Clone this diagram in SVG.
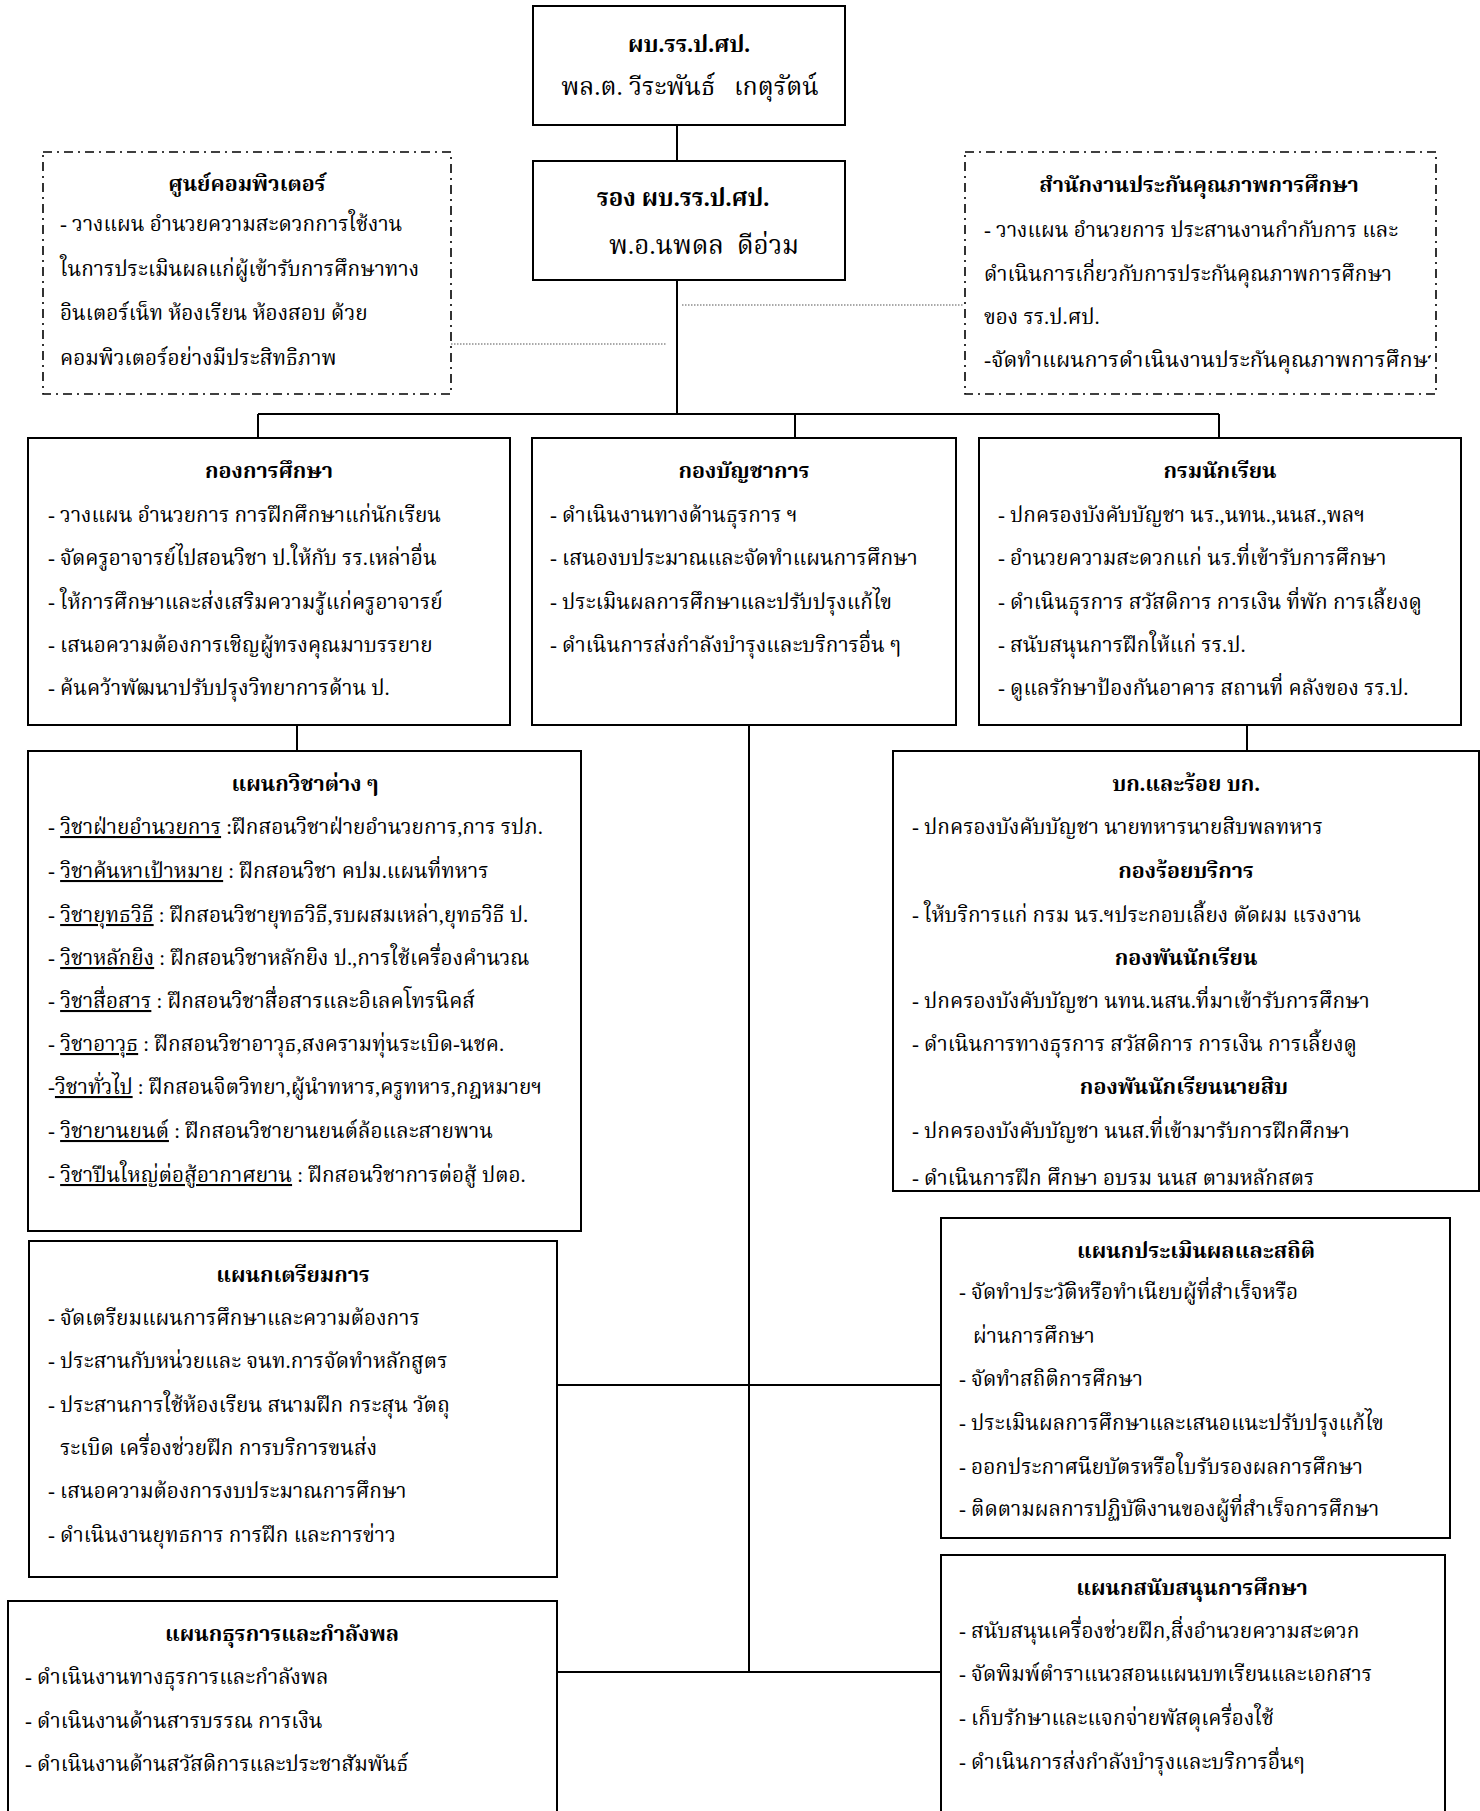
<svg xmlns="http://www.w3.org/2000/svg" width="1480" height="1811" viewBox="0 0 1480 1811">
<style>
.box{fill:#fff;stroke:#000;stroke-width:2}
.dd{fill:#fff;stroke:#000;stroke-width:1.6;stroke-dasharray:9 5 2 5}
.ln{stroke:#000;stroke-width:2;fill:none}
.dot{stroke:#555;stroke-width:1.2;stroke-dasharray:1.5 1.5;fill:none}
text{font-family:"Liberation Serif","Noto Serif Thai","Noto Sans Thai",serif;font-size:20.8px;fill:#000;white-space:pre}
.b{font-weight:bold;font-size:21.5px}
.c{text-anchor:middle}
.u{text-decoration:underline}
.h1{font-size:23px}
.h2{font-size:24px}
.nm{font-size:25px}
.nm2{font-size:26px}
</style>
<defs>
<clipPath id="clipbk"><rect x="893" y="751" width="586" height="434"/></clipPath>
<clipPath id="clipqa"><rect x="965" y="152" width="466" height="242"/></clipPath>
</defs>
<g id="connectors">
<line class="ln" x1="677" y1="125" x2="677" y2="161"/>
<line class="ln" x1="677" y1="280" x2="677" y2="414"/>
<line class="ln" x1="258" y1="414" x2="1219" y2="414"/>
<line class="ln" x1="258" y1="414" x2="258" y2="438"/>
<line class="ln" x1="795" y1="414" x2="795" y2="438"/>
<line class="ln" x1="1219" y1="414" x2="1219" y2="438"/>
<line class="dot" x1="451" y1="344" x2="667" y2="344"/>
<line class="dot" x1="682" y1="305" x2="964" y2="305"/>
<line class="ln" x1="297" y1="725" x2="297" y2="751"/>
<line class="ln" x1="1247" y1="725" x2="1247" y2="751"/>
<line class="ln" x1="749" y1="725" x2="749" y2="1672"/>
<line class="ln" x1="557" y1="1385" x2="941" y2="1385"/>
<line class="ln" x1="557" y1="1672" x2="941" y2="1672"/>
</g>
<g id="n-director">
<rect class="box" x="533" y="6" width="312" height="119"/>
<text class="b c h1" x="689" y="52">ผบ.รร.ป.ศป.</text>
<text class="c nm" x="690" y="95">พล.ต. วีระพันธ์   เกตุรัตน์</text>
</g>
<g id="n-deputy">
<rect class="box" x="533" y="161" width="312" height="119"/>
<text class="b c h2" x="683" y="206">รอง ผบ.รร.ป.ศป.</text>
<text class="c nm2" x="704" y="254">พ.อ.นพดล  ดีอ่วม</text>
</g>
<g id="n-computer">
<rect class="dd" x="43" y="152" width="408" height="242"/>
<text class="b c" x="247" y="191">ศูนย์คอมพิวเตอร์</text>
<text x="60" y="231">- วางแผน อำนวยความสะดวกการใช้งาน</text>
<text x="60" y="276">ในการประเมินผลแก่ผู้เข้ารับการศึกษาทาง</text>
<text x="60" y="320">อินเตอร์เน็ท ห้องเรียน ห้องสอบ ด้วย</text>
<text x="60" y="365">คอมพิวเตอร์อย่างมีประสิทธิภาพ</text>
</g>
<g id="n-quality">
<rect class="dd" x="965" y="152" width="471" height="242"/>
<text class="b c" x="1199" y="192">สำนักงานประกันคุณภาพการศึกษา</text>
<g clip-path="url(#clipqa)">
<text x="984" y="237">- วางแผน อำนวยการ ประสานงานกำกับการ และ</text>
<text x="984" y="281">ดำเนินการเกี่ยวกับการประกันคุณภาพการศึกษา</text>
<text x="984" y="324">ของ รร.ป.ศป.</text>
<text x="984" y="367" style="font-size:21.6px">-จัดทำแผนการดำเนินงานประกันคุณภาพการศึกษา</text>
</g>
</g>
<g id="n-education">
<rect class="box" x="28" y="438" width="482" height="287"/>
<text class="b c" x="269" y="478">กองการศึกษา</text>
<text x="48" y="522">- วางแผน อำนวยการ การฝึกศึกษาแก่นักเรียน</text>
<text x="48" y="565">- จัดครูอาจารย์ไปสอนวิชา ป.ให้กับ รร.เหล่าอื่น</text>
<text x="48" y="609">- ให้การศึกษาและส่งเสริมความรู้แก่ครูอาจารย์</text>
<text x="48" y="652">- เสนอความต้องการเชิญผู้ทรงคุณมาบรรยาย</text>
<text x="48" y="695">- ค้นคว้าพัฒนาปรับปรุงวิทยาการด้าน ป.</text>
</g>
<g id="n-hq">
<rect class="box" x="532" y="438" width="424" height="287"/>
<text class="b c" x="744" y="478">กองบัญชาการ</text>
<text x="550" y="522">- ดำเนินงานทางด้านธุรการ ฯ</text>
<text x="550" y="565">- เสนองบประมาณและจัดทำแผนการศึกษา</text>
<text x="550" y="609">- ประเมินผลการศึกษาและปรับปรุงแก้ไข</text>
<text x="550" y="652">- ดำเนินการส่งกำลังบำรุงและบริการอื่น ๆ</text>
</g>
<g id="n-students">
<rect class="box" x="979" y="438" width="482" height="287"/>
<text class="b c" x="1220" y="478">กรมนักเรียน</text>
<text x="998" y="522">- ปกครองบังคับบัญชา นร.,นทน.,นนส.,พลฯ</text>
<text x="998" y="565">- อำนวยความสะดวกแก่ นร.ที่เข้ารับการศึกษา</text>
<text x="998" y="609">- ดำเนินธุรการ สวัสดิการ การเงิน ที่พัก การเลี้ยงดู</text>
<text x="998" y="652">- สนับสนุนการฝึกให้แก่ รร.ป.</text>
<text x="998" y="695">- ดูแลรักษาป้องกันอาคาร สถานที่ คลังของ รร.ป.</text>
</g>
<g id="n-subjects">
<rect class="box" x="28" y="751" width="553" height="480"/>
<text class="b c" x="305" y="791">แผนกวิชาต่าง ๆ</text>
<text x="48" y="834">- <tspan class="u">วิชาฝ่ายอำนวยการ</tspan> :ฝึกสอนวิชาฝ่ายอำนวยการ,การ รปภ.</text>
<text x="48" y="878">- <tspan class="u">วิชาค้นหาเป้าหมาย</tspan> : ฝึกสอนวิชา คปม.แผนที่ทหาร</text>
<text x="48" y="922">- <tspan class="u">วิชายุทธวิธี</tspan> : ฝึกสอนวิชายุทธวิธี,รบผสมเหล่า,ยุทธวิธี ป.</text>
<text x="48" y="965">- <tspan class="u">วิชาหลักยิง</tspan> : ฝึกสอนวิชาหลักยิง ป.,การใช้เครื่องคำนวณ</text>
<text x="48" y="1008">- <tspan class="u">วิชาสื่อสาร</tspan> : ฝึกสอนวิชาสื่อสารและอิเลคโทรนิคส์</text>
<text x="48" y="1051">- <tspan class="u">วิชาอาวุธ</tspan> : ฝึกสอนวิชาอาวุธ,สงครามทุ่นระเบิด-นชค.</text>
<text x="48" y="1094">-<tspan class="u">วิชาทั่วไป</tspan> : ฝึกสอนจิตวิทยา,ผู้นำทหาร,ครูทหาร,กฎหมายฯ</text>
<text x="48" y="1138">- <tspan class="u">วิชายานยนต์</tspan> : ฝึกสอนวิชายานยนต์ล้อและสายพาน</text>
<text x="48" y="1182">- <tspan class="u">วิชาปืนใหญ่ต่อสู้อากาศยาน</tspan> : ฝึกสอนวิชาการต่อสู้ ปตอ.</text>
</g>
<g id="n-battalions">
<rect class="box" x="893" y="751" width="586" height="440"/>
<text class="b c" x="1186" y="791">บก.และร้อย บก.</text>
<text x="912" y="834">- ปกครองบังคับบัญชา นายทหารนายสิบพลทหาร</text>
<text class="b c" x="1186" y="878">กองร้อยบริการ</text>
<text x="912" y="922">- ให้บริการแก่ กรม นร.ฯประกอบเลี้ยง ตัดผม แรงงาน</text>
<text class="b c" x="1186" y="965">กองพันนักเรียน</text>
<text x="912" y="1008">- ปกครองบังคับบัญชา นทน.นสน.ที่มาเข้ารับการศึกษา</text>
<text x="912" y="1051">- ดำเนินการทางธุรการ สวัสดิการ การเงิน การเลี้ยงดู</text>
<text class="b c" x="1184" y="1094">กองพันนักเรียนนายสิบ</text>
<text x="912" y="1138">- ปกครองบังคับบัญชา นนส.ที่เข้ามารับการฝึกศึกษา</text>
<text x="912" y="1185" clip-path="url(#clipbk)">- ดำเนินการฝึก ศึกษา อบรม นนส ตามหลักสูตร</text>
</g>
<g id="n-prep">
<rect class="box" x="29" y="1241" width="528" height="336"/>
<text class="b c" x="293" y="1282">แผนกเตรียมการ</text>
<text x="48" y="1325">- จัดเตรียมแผนการศึกษาและความต้องการ</text>
<text x="48" y="1368">- ประสานกับหน่วยและ จนท.การจัดทำหลักสูตร</text>
<text x="48" y="1412">- ประสานการใช้ห้องเรียน สนามฝึก กระสุน วัตถุ</text>
<text x="60" y="1455">ระเบิด เครื่องช่วยฝึก การบริการขนส่ง</text>
<text x="48" y="1498">- เสนอความต้องการงบประมาณการศึกษา</text>
<text x="48" y="1542">- ดำเนินงานยุทธการ การฝึก และการข่าว</text>
</g>
<g id="n-admin">
<rect class="box" x="8" y="1601" width="549" height="240"/>
<text class="b c" x="282" y="1641">แผนกธุรการและกำลังพล</text>
<text x="25" y="1684">- ดำเนินงานทางธุรการและกำลังพล</text>
<text x="25" y="1728">- ดำเนินงานด้านสารบรรณ การเงิน</text>
<text x="25" y="1771">- ดำเนินงานด้านสวัสดิการและประชาสัมพันธ์</text>
</g>
<g id="n-evaluation">
<rect class="box" x="941" y="1218" width="509" height="320"/>
<text class="b c" x="1196" y="1258">แผนกประเมินผลและสถิติ</text>
<text x="959" y="1299">- จัดทำประวัติหรือทำเนียบผู้ที่สำเร็จหรือ</text>
<text x="973" y="1343">ผ่านการศึกษา</text>
<text x="959" y="1386">- จัดทำสถิติการศึกษา</text>
<text x="959" y="1430">- ประเมินผลการศึกษาและเสนอแนะปรับปรุงแก้ไข</text>
<text x="959" y="1474">- ออกประกาศนียบัตรหรือใบรับรองผลการศึกษา</text>
<text x="959" y="1516">- ติดตามผลการปฏิบัติงานของผู้ที่สำเร็จการศึกษา</text>
</g>
<g id="n-support">
<rect class="box" x="941" y="1555" width="504" height="280"/>
<text class="b c" x="1192" y="1595">แผนกสนับสนุนการศึกษา</text>
<text x="959" y="1638">- สนับสนุนเครื่องช่วยฝึก,สิ่งอำนวยความสะดวก</text>
<text x="959" y="1681">- จัดพิมพ์ตำราแนวสอนแผนบทเรียนและเอกสาร</text>
<text x="959" y="1725">- เก็บรักษาและแจกจ่ายพัสดุเครื่องใช้</text>
<text x="959" y="1769">- ดำเนินการส่งกำลังบำรุงและบริการอื่นๆ</text>
</g>
</svg>
